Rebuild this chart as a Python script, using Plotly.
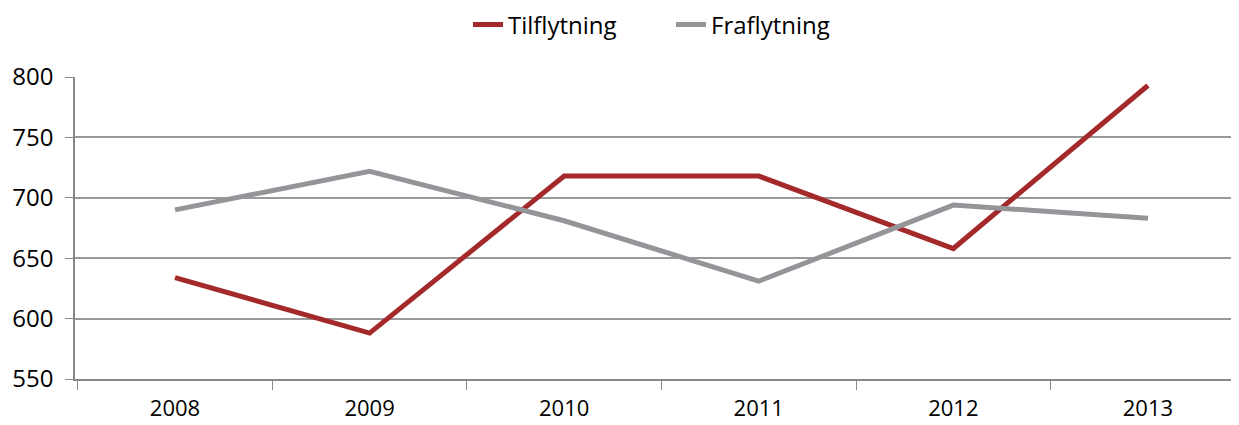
import plotly.graph_objects as go

years = ["2008", "2009", "2010", "2011", "2012", "2013"]
tilflytning = [634, 588, 718, 718, 658, 793]
fraflytning = [690, 722, 681, 631, 694, 683]
y_ticks = [550, 600, 650, 700, 750, 800]

font = "Open Sans"
W, H = 1231, 417  # page body has an 8px margin

fig = go.Figure()
fig.add_trace(go.Scatter(x=years, y=tilflytning, mode="lines", name="Tilflytning",
                         line=dict(color="#A4292B", width=5)))
fig.add_trace(go.Scatter(x=years, y=fraflytning, mode="lines", name="Fraflytning",
                         line=dict(color="#949599", width=5)))

fig.update_layout(
    width=W, height=H,
    margin=dict(l=67, r=0, t=69, b=46, autoexpand=False),
    paper_bgcolor="white", plot_bgcolor="white",
    font=dict(family=font, size=24, color="#000000"),
    showlegend=True,
    legend=dict(orientation="h", xref="container", yref="container",
                x=663 / W, xanchor="center", y=1 - 17 / H, yanchor="middle",
                font=dict(size=24), entrywidth=158, entrywidthmode="pixels"),
    xaxis=dict(type="category", range=[-0.514, 5.468], showgrid=False, automargin=False,
               showline=True, linecolor="#888888", linewidth=1.5,
               ticks="outside", tickson="boundaries", ticklen=9, tickcolor="#888888",
               tickfont=dict(size=22), ticklabelstandoff=9),
    yaxis=dict(range=[550, 800], tickvals=y_ticks, showgrid=True, gridcolor="#999999",
               gridwidth=1.5, showline=True, linecolor="#888888", linewidth=1.5,
               automargin=False,
               ticks="outside", ticklen=8, tickcolor="#888888", zeroline=False,
               tickfont=dict(size=24), ticklabelstandoff=7),
)
fig.write_html("out.html")
